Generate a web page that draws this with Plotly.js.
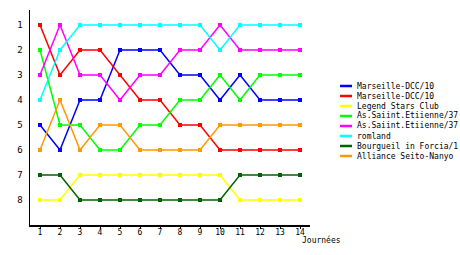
<!DOCTYPE html>
<html><head><meta charset="utf-8">
<script src="https://cdn.plot.ly/plotly-3.0.1.min.js"></script>
<style>html,body{margin:0;padding:0;background:#fff}#chart{width:460px;height:255px}</style>
</head><body><div id="chart"></div>
<script>
const rounds = [1,2,3,4,5,6,7,8,9,10,11,12,13,14];
const teamNames = ["Marseille-DCC/10","Marseille-DCC/10","Legend Stars Club","As.Saiint.Etiienne/37","As.Saiint.Etiienne/37","romland","Bourgueil in Forcia/1","Alliance Seito-Nanyo"];
const teamColors = ["#0000ff","#ff0000","#ffff00","#00ff00","#ff00ff","#00ffff","#006400","#ff9900"];
const rankBlue    = [5,6,4,4,2,2,2,3,3,4,3,4,4,4];
const rankRed     = [1,3,2,2,3,4,4,5,5,6,6,6,6,6];
const rankYellow  = [8,8,7,7,7,7,7,7,7,7,8,8,8,8];
const rankGreen   = [2,5,5,6,6,5,5,4,4,3,4,3,3,3];
const rankMagenta = [3,1,3,3,4,3,3,2,2,1,2,2,2,2];
const rankCyan    = [4,2,1,1,1,1,1,1,1,2,1,1,1,1];
const rankDkGreen = [7,7,8,8,8,8,8,8,8,8,7,7,7,7];
const rankOrange  = [6,4,6,5,5,6,6,6,6,5,5,5,5,5];
const rankTicks = [1,2,3,4,5,6,7,8];
const xTitle = "Journées";

const allRanks = [rankBlue,rankRed,rankYellow,rankGreen,rankMagenta,rankCyan,rankDkGreen,rankOrange];
const font = {family:"DejaVu Sans Mono", size:8, color:"#000"};

const traces = allRanks.map((r,i)=>({
  x: rounds, y: r, type:'scatter', mode:'lines+markers', name: teamNames[i],
  line:{color:teamColors[i], width:1.5}, marker:{color:teamColors[i], size:4, symbol:'square'},
  showlegend:false, hoverinfo:'skip'
}));

// legend drawn manually (tight 10px spacing)
const plotL=30, plotR=310, plotT=10, plotB=225;
const pw=plotR-plotL, ph=plotB-plotT;
const px2x = p => (p-plotL)/pw;
const py2y = p => (plotB-p)/ph;
const shapes=[], annotations=[];
teamNames.forEach((n,i)=>{
  const yy = 86 + i*10;
  shapes.push({type:'line', xref:'paper', yref:'paper', x0:px2x(340), x1:px2x(352), y0:py2y(yy), y1:py2y(yy), line:{color:teamColors[i], width:2.5}});
  annotations.push({xref:'paper', yref:'paper', x:px2x(355), y:py2y(yy), text:n, showarrow:false, xanchor:'left', yanchor:'middle', font:font});
});
annotations.push({xref:'paper', yref:'paper', x:px2x(300), y:py2y(240), text:xTitle, showarrow:false, xanchor:'left', yanchor:'middle', font:font});

const layout = {
  width:460, height:255, margin:{l:plotL, r:460-plotR, t:plotT, b:255-plotB},
  paper_bgcolor:'#fff', plot_bgcolor:'#fff', font:font,
  xaxis:{range:[0.5,14.5], tickvals:rounds, ticktext:rounds.map(String), showgrid:false, zeroline:false,
    showline:true, linecolor:'#000', linewidth:1.5, ticks:'outside', ticklen:2, tickcolor:'#000', tickfont:{family:"DejaVu Sans Mono", size:8}, ticklabelstandoff:-3, fixedrange:true},
  yaxis:{range:[9,0.4], tickvals:rankTicks, ticktext:rankTicks.map(String), showgrid:false, zeroline:false,
    showline:true, linecolor:'#000', linewidth:1.5, ticks:'', tickfont:{family:"DejaVu Sans Mono", size:9}, ticklabelstandoff:4, fixedrange:true},
  shapes:shapes, annotations:annotations, showlegend:false
};
Plotly.newPlot('chart', traces, layout, {staticPlot:true, displayModeBar:false});
</script></body></html>
